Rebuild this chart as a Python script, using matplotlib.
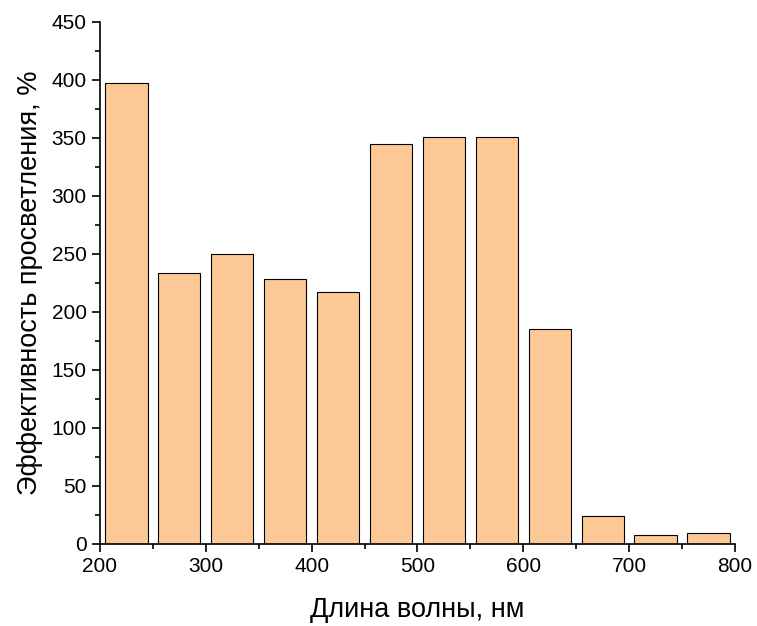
import numpy as np
import matplotlib.pyplot as plt
from matplotlib.ticker import MultipleLocator

plt.rcParams['font.family'] = ['Liberation Sans', 'DejaVu Sans']

wavelength = [225, 275, 325, 375, 425, 475, 525, 575, 625, 675, 725, 775]
efficiency = [397, 234, 250, 228, 217, 345, 351, 351, 185, 24, 8, 9.5]

fig = plt.figure(figsize=(7.57, 6.26), dpi=100)
ax = fig.add_axes([0.132, 0.131, 0.839, 0.834])

ax.bar(wavelength, efficiency, width=40, color='#FBC896', edgecolor='black', linewidth=0.8)

ax.set_xlim(200, 800)
ax.set_ylim(0, 450)
ax.xaxis.set_major_locator(MultipleLocator(100))
ax.xaxis.set_minor_locator(MultipleLocator(50))
ax.yaxis.set_major_locator(MultipleLocator(50))
ax.yaxis.set_minor_locator(MultipleLocator(25))
ax.tick_params(which='major', direction='out', length=6, width=1.2, labelsize=15)
ax.tick_params(which='minor', direction='out', length=3.5, width=1.2)
for s in ['top', 'right']:
    ax.spines[s].set_visible(False)
for s in ['left', 'bottom']:
    ax.spines[s].set_linewidth(1.2)

ax.set_xlabel('Длина волны, нм', fontsize=19.5, labelpad=15)
ax.set_ylabel('Эффективность просветления, %', fontsize=19.5, labelpad=6)

fig.savefig('out.png', dpi=100)
